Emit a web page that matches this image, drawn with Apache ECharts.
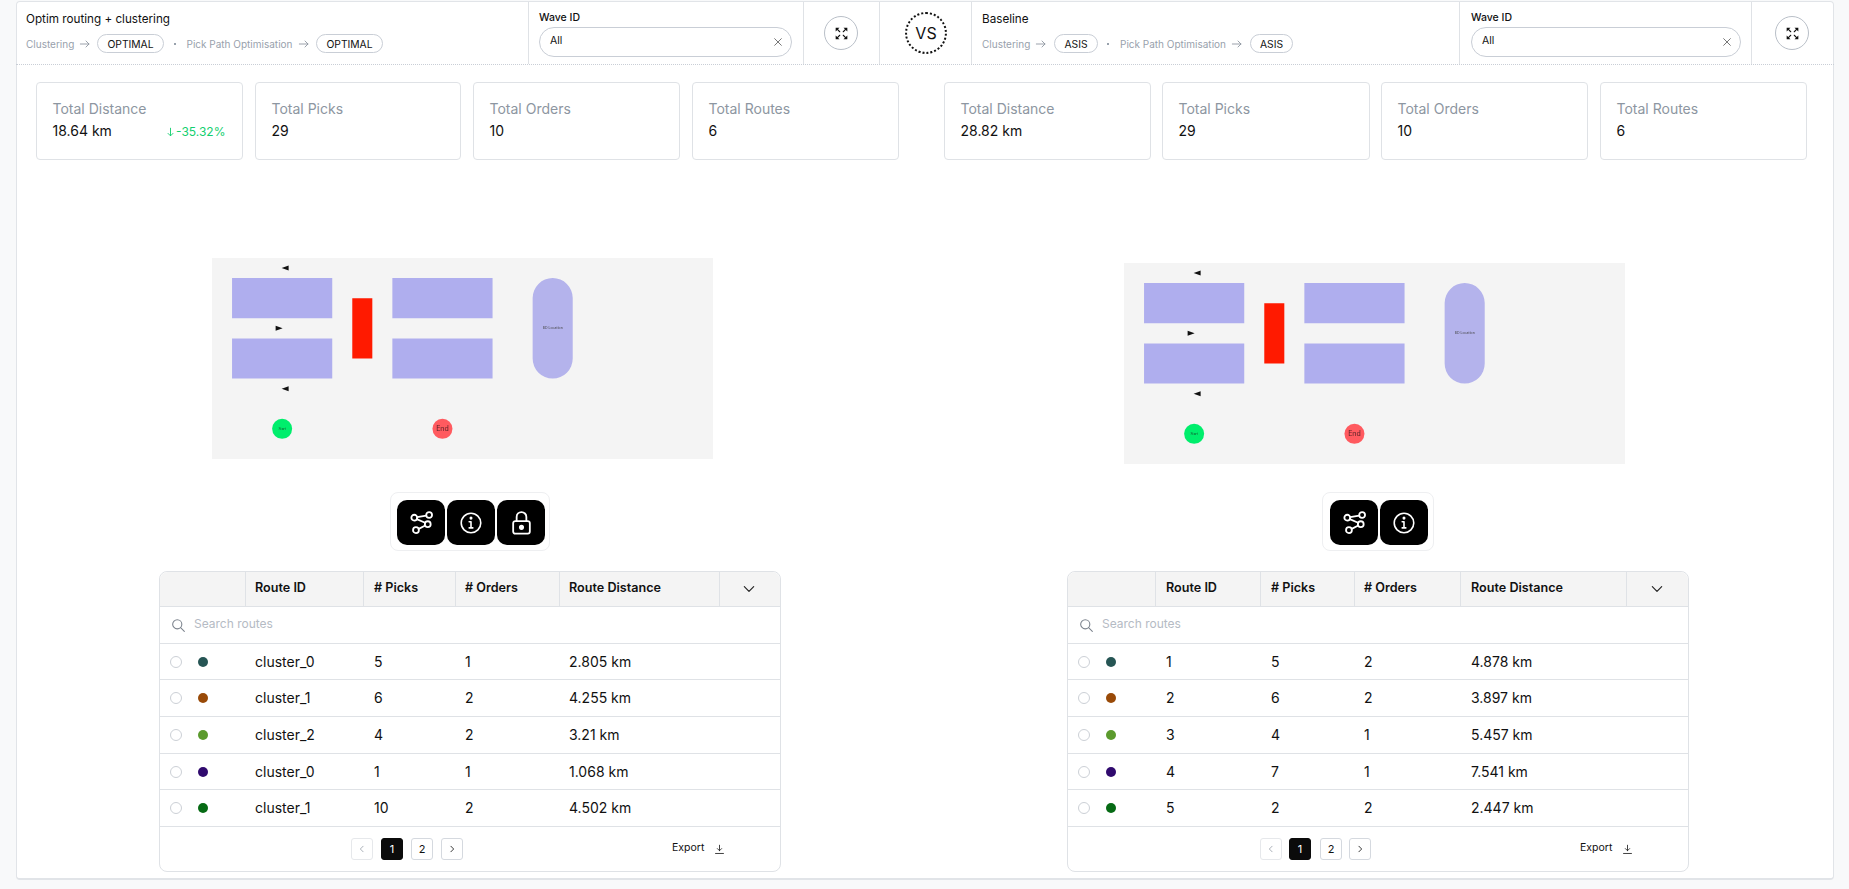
<!DOCTYPE html>
<html>
<head>
<meta charset="utf-8">
<title>Route comparison</title>
<script src="https://cdn.jsdelivr.net/npm/echarts@6/dist/echarts.min.js"></script>
<style>
  html, body { margin: 0; padding: 0; width: 1849px; height: 889px; overflow: hidden; background: #f8f9fa; }
  body { font-family: Inter, "Noto Sans", sans-serif; color: #111; position: relative; }
  .abs { position: absolute; box-sizing: border-box; }
  .txt { position: absolute; white-space: nowrap; transform: translateY(-50%); line-height: 1; }
  .panel { background: #fff; border: 1px solid #e1e4e8; border-bottom-width: 2px; border-radius: 4px; }
  .card { background: #fff; border: 1px solid #dfe2e6; border-radius: 4px; }
  .pill { border: 1px solid #c9ced6; border-radius: 10px; display: flex; align-items: center; justify-content: center; font-size: 10.3px; }
  .input { border: 1px solid #c9ced6; border-radius: 15px; }
  .round { border: 1px solid #b9bfc8; border-radius: 50%; display: flex; align-items: center; justify-content: center; }
  .tray { border: 1px solid #eeeff1; border-radius: 8px; }
  .tool { background: #000; border-radius: 10px; display: flex; align-items: center; justify-content: center; }
  .table { border: 1px solid #dfe2e6; border-radius: 8px; overflow: hidden; }
  .hline { position: absolute; height: 1px; background: #dfe2e6; }
  .vline { position: absolute; width: 1px; background: #dfe2e6; }
  .page { border: 1px solid #d5d9df; border-radius: 3px; display: flex; align-items: center; justify-content: center; font-size: 11px; }
</style>
</head>
<body>
<script>
// 数据
const kpiLabels = ['Total Distance', 'Total Picks', 'Total Orders', 'Total Routes'];
const optimKpis = ['18.64 km', '29', '10', '6'];
const baseKpis = ['28.82 km', '29', '10', '6'];
const optimDelta = '-35.32%';

const tableHeaders = ['Route ID', '# Picks', '# Orders', 'Route Distance'];
const routeColors = ['#265554', '#994a08', '#5b9a2d', '#300a6e', '#066a14'];

const optimRouteIds = ['cluster_0', 'cluster_1', 'cluster_2', 'cluster_0', 'cluster_1'];
const optimPicks = [5, 6, 4, 1, 10];
const optimOrders = [1, 2, 2, 1, 2];
const optimDistances = [2.805, 4.255, 3.21, 1.068, 4.502];

const baseRouteIds = ['1', '2', '3', '4', '5'];
const basePicks = [5, 6, 4, 7, 2];
const baseOrders = [2, 2, 1, 1, 2];
const baseDistances = [4.878, 3.897, 5.457, 7.541, 2.447];

// 仓库平面图（单位：平面坐标）: [x0, y0, x1, y1]
const rackCells = [[20, 20, 120, 60], [180, 20, 280, 60], [20, 80, 120, 120], [180, 80, 280, 120]];
const blockedCells = [[140, 40, 160, 100]];
const bdCells = [[320, 20, 360, 120]];
const arrowPoints = [[73, 10, 'left'], [67, 70, 'right'], [73, 130, 'left']];
const startPoint = [70, 170];
const endPoint = [230, 170];

const icons = {
  expand: '<path fill="#111" stroke="none" d="M2 2h4.6L2 6.6zM16 2h-4.6L16 6.6zM2 16h4.6L2 11.4zM16 16h-4.6L16 11.4z"/><path d="M3.5 3.5l3.4 3.4M14.5 3.5l-3.4 3.4M3.5 14.5l3.4-3.4M14.5 14.5l-3.4-3.4"/>',
  close: '<path d="M4 4l10 10M14 4L4 14"/>',
  arrow: '<path d="M2 9h13M10.5 4.5L15 9l-4.5 4.5"/>',
  down: '<path d="M9 2v12M5 10.5L9 14.5l4-4"/>',
  route: '<circle cx="3.8" cy="5.5" r="2.1"/><circle cx="14.5" cy="3.6" r="2.1"/><circle cx="13.5" cy="10.2" r="2.1"/><circle cx="5" cy="14.5" r="2.1"/><path d="M5.9 5.1l6.5-1.1M5.6 6.6l6 2.6M7 13.6l4.7-2.4"/>',
  info: '<circle cx="9" cy="9" r="8"/><path d="M9 8v5M7.5 13h3M7.5 8H9"/><circle cx="9" cy="5" r=".6"/>',
  lock: '<rect x="3" y="8" width="12" height="9" rx="1.5"/><path d="M5.5 8V5a3.5 3.5 0 017 0v3"/><circle cx="9" cy="12.5" r="1.2" fill="#fff"/>',
  search: '<circle cx="7.5" cy="7.5" r="5.5"/><path d="M11.5 11.5L16 16"/>',
  chevron: '<path d="M3 6l6 6 6-6"/>',
  prev: '<path d="M11 4L6 9l5 5"/>',
  next: '<path d="M7 4l5 5-5 5"/>',
  download: '<path d="M9 2v9M5.5 7.5L9 11l3.5-3.5M2.5 15.5h13"/>'
};
const toolIconSizes = { route: 25, info: 22, lock: 25 };

function icon(name, size, color, width) {
  return `<svg width="${size}" height="${size}" viewBox="0 0 18 18" fill="none" stroke="${color}" stroke-width="${width}" stroke-linecap="round" stroke-linejoin="round">${icons[name]}</svg>`;
}

function box(cls, x0, y0, x1, y1, html) {
  const el = document.createElement('div');
  el.className = 'abs ' + cls;
  el.style.cssText = `left:${x0}px;top:${y0}px;width:${x1 - x0}px;height:${y1 - y0}px`;
  if (html) el.innerHTML = html;
  document.body.appendChild(el);
  return el;
}

function text(x, cy, str, size, color, weight) {
  const el = document.createElement('div');
  el.className = 'txt';
  el.textContent = str;
  el.style.cssText = `left:${x}px;top:${cy}px;font-size:${size}px;color:${color || '#111'};font-weight:${weight || 400}`;
  document.body.appendChild(el);
  return el;
}

function iconAt(cx, cy, name, size, color, width) {
  box('', cx - size / 2, cy - size / 2, cx + size / 2, cy + size / 2, icon(name, size, color, width))
    .style.display = 'flex';
}

function hline(x0, x1, y, color) {
  const el = box('hline', x0, y, x1, y + 1);
  if (color) el.style.background = color;
  return el;
}

function vline(x, y0, y1) {
  return box('vline', x, y0, x + 1, y1);
}

// 页面外框
box('panel', 16, 1, 1834, 880);
const headerRule = box('', 16, 64, 1834, 65);
headerRule.style.borderTop = '1px dotted #c9ced6';
[528, 803, 879, 971, 1459, 1751].forEach(x => vline(x, 2, 64));

// 头部
function drawHeader(h) {
  text(h.titleX, 20, h.title, 11.7, '#111');
  text(h.clusterX, 43.5, 'Clustering', 10, '#98a1ac');
  iconAt(h.arrow1, 44, 'arrow', 12, '#8b939e', 1.3);
  box('pill', h.pill1[0], 34, h.pill1[1], 53, h.tag);
  box('', h.dotX - 1, 43, h.dotX + 1, 45).style.background = '#98a1ac';
  text(h.pickX, 43.5, 'Pick Path Optimisation', 10, '#98a1ac');
  iconAt(h.arrow2, 44, 'arrow', 12, '#8b939e', 1.3);
  box('pill', h.pill2[0], 34, h.pill2[1], 53, h.tag);
  text(h.waveX, 18, 'Wave ID', 10.5, '#111', 500);
  box('input', h.waveX, 27, h.inputEnd, 57);
  text(h.waveX + 11, 41, 'All', 10.5, '#111');
  iconAt(h.inputEnd - 14, 42, 'close', 12, '#555', 1.2);
  box('round', h.expandX - 17, 16, h.expandX + 17, 50, icon('expand', 15, '#111', 1.3));
}

drawHeader({
  title: 'Optim routing + clustering', tag: 'OPTIMAL', titleX: 26, clusterX: 26, arrow1: 85,
  pill1: [97, 164], dotX: 175, pickX: 186.5, arrow2: 303.5, pill2: [316, 383], waveX: 539, inputEnd: 792, expandX: 841
});
drawHeader({
  title: 'Baseline', tag: 'ASIS', titleX: 982, clusterX: 982, arrow1: 1041,
  pill1: [1054, 1098], dotX: 1108, pickX: 1120, arrow2: 1237, pill2: [1250, 1293], waveX: 1471, inputEnd: 1741, expandX: 1792
});

// VS 标记
const vs = box('', 905, 12, 947, 54, 'VS');
vs.style.cssText += ';border:2px dotted #111;border-radius:50%;display:flex;align-items:center;justify-content:center;font-size:16px;background:#fff';

// 指标卡片
function drawKpis(cardEdges, values, delta) {
  cardEdges.forEach((edge, i) => {
    box('card', edge[0], 82, edge[1], 160);
    text(edge[0] + 16.5, 109, kpiLabels[i], 14, '#8d96a1');
    text(edge[0] + 16.5, 131, values[i], 14, '#111');
  });
  if (delta) {
    iconAt(170, 132, 'down', 11, '#13cf6f', 1.5);
    text(176, 131.5, delta, 12, '#13cf6f');
  }
}
drawKpis([[36, 243], [255, 461], [473, 680], [692, 899]], optimKpis, optimDelta);
drawKpis([[944, 1151], [1162, 1370], [1381, 1588], [1600, 1807]], baseKpis, null);

// 平面图
function rectSeries(cells, color, opacity, radius) {
  return {
    type: 'custom',
    coordinateSystem: 'cartesian2d',
    silent: true,
    data: cells,
    encode: { x: [0, 2], y: [1, 3] },
    renderItem: function(params, api) {
      const a = api.coord([api.value(0), api.value(1)]);
      const b = api.coord([api.value(2), api.value(3)]);
      return {
        type: 'rect',
        shape: { x: a[0], y: a[1], width: b[0] - a[0], height: b[1] - a[1], r: radius },
        style: { fill: color, opacity: opacity }
      };
    }
  };
}

function pointSeries(point, color, name, size, labelColor) {
  return {
    type: 'scatter',
    silent: true,
    symbol: 'circle',
    symbolSize: 20,
    itemStyle: { color: color, opacity: 1 },
    label: { show: true, position: 'inside', formatter: name, fontSize: size, color: labelColor, fontFamily: 'Inter' },
    data: [point]
  };
}

function drawPlan(left, top) {
  const el = box('', left, top, left + 501, top + 201);
  el.style.filter = 'blur(0.4px)';
  const chart = echarts.init(el);
  const bdCenter = [(bdCells[0][0] + bdCells[0][2]) / 2, (bdCells[0][1] + bdCells[0][3]) / 2];
  chart.setOption({
    animation: false,
    backgroundColor: '#f4f4f4',
    grid: { left: 0, right: 0, top: 0, bottom: 0 },
    xAxis: { type: 'value', min: 0, max: 500, show: false },
    yAxis: { type: 'value', min: 0, max: 200, inverse: true, show: false },
    series: [
      rectSeries(rackCells, '#afaeee', 1, 0),
      rectSeries(blockedCells, '#ff1a00', 1, 0),
      rectSeries(bdCells, '#b4b3ec', 1, 20),
      {
        type: 'scatter',
        silent: true,
        symbol: 'circle',
        symbolSize: 2,
        itemStyle: { color: 'transparent', opacity: 1 },
        label: { show: true, position: 'inside', formatter: 'BD Location', fontSize: 3.5, color: '#444', fontFamily: 'Inter' },
        data: [bdCenter]
      },
      {
        type: 'scatter',
        silent: true,
        symbol: 'triangle',
        symbolSize: [5, 7],
        itemStyle: { color: '#111', opacity: 1 },
        data: arrowPoints.map(p => ({
          value: [p[0], p[1]],
          symbolRotate: p[2] === 'left' ? 90 : -90
        }))
      },
      pointSeries(startPoint, '#00ee6c', 'Start', 3.2, '#134d2c'),
      pointSeries(endPoint, '#ff5a5f', 'End', 7, '#552226')
    ]
  });
  return chart;
}
drawPlan(212, 258);
drawPlan(1124, 263);

// 工具按钮
function drawTools(tray, buttons, names) {
  box('tray', tray[0], 492, tray[1], 551);
  buttons.forEach((b, i) => {
    box('tool', b[0], 500, b[1], 545, icon(names[i], toolIconSizes[names[i]], '#fff', 1.3));
  });
}
drawTools([390, 550], [[397, 445], [447, 495], [497, 545]], ['route', 'info', 'lock']);
drawTools([1322, 1434], [[1330, 1378], [1380, 1428]], ['route', 'info']);

// 路线表格
const rowLines = [643, 679, 716, 753, 789, 826];
const rowCenters = [661.5, 698, 734.5, 771.5, 808];

function drawTable(t, routeIds, picks, orders, distances) {
  box('table', t.x0, 571, t.x1, 872);
  const head = box('', t.x0 + 1, 572, t.x1 - 1, 606);
  head.style.background = '#f4f4f4';
  head.style.borderRadius = '8px 8px 0 0';
  t.seps.forEach(x => vline(x, 572, 606));
  hline(t.x0 + 1, t.x1 - 1, 606);
  tableHeaders.forEach((label, i) => {
    text(t.cols[i], 587.5, label, 12.6, '#111', 600);
  });
  iconAt(t.chevron, 589, 'chevron', 14, '#222', 1.5);
  iconAt(t.searchIcon, 625, 'search', 15, '#7c838d', 1.3);
  text(t.searchText, 624, 'Search routes', 12, '#b5bbc4');
  rowLines.forEach(y => hline(t.x0 + 1, t.x1 - 1, y));

  rowCenters.forEach((cy, i) => {
    const radio = box('', t.radio - 6, cy - 6, t.radio + 6, cy + 6);
    radio.style.cssText += ';border:1px solid #ccd0d6;border-radius:50%';
    const dot = box('', t.dot - 5, cy - 5, t.dot + 5, cy + 5);
    dot.style.cssText += `;background:${routeColors[i]};border-radius:50%`;
    text(t.cols[0], cy, routeIds[i], 14);
    text(t.cols[1], cy, String(picks[i]), 14);
    text(t.cols[2], cy, String(orders[i]), 14);
    text(t.cols[3], cy, distances[i] + ' km', 14);
  });

  // 分页
  const pages = t.pages;
  const prev = box('page', pages[0], 838, pages[0] + 22, 860, icon('prev', 10, '#9aa1ab', 1.5));
  prev.style.borderColor = '#e6e8eb';
  const one = box('page', pages[1], 838, pages[1] + 22, 860, '1');
  one.style.cssText += ';background:#0b0b0b;color:#fff;border-color:#0b0b0b';
  box('page', pages[2], 838, pages[2] + 22, 860, '2');
  box('page', pages[3], 838, pages[3] + 22, 860, icon('next', 10, '#222', 1.6));
  text(t.exportX, 848, 'Export', 10.5, '#111', 400);
  iconAt(t.exportIcon, 849, 'download', 11, '#222', 1.4);
}

drawTable({
  x0: 159, x1: 781, seps: [245, 363, 455, 559, 719], cols: [255, 374, 465, 569], chevron: 749,
  searchIcon: 178, searchText: 194, radio: 176, dot: 203, pages: [351, 381, 411, 441], exportX: 672, exportIcon: 719
}, optimRouteIds, optimPicks, optimOrders, optimDistances);
drawTable({
  x0: 1067, x1: 1689, seps: [1155, 1260, 1354, 1460, 1626], cols: [1166, 1271, 1364, 1471], chevron: 1657,
  searchIcon: 1086, searchText: 1102, radio: 1084, dot: 1111, pages: [1260, 1289, 1320, 1349], exportX: 1580, exportIcon: 1627
}, baseRouteIds, basePicks, baseOrders, baseDistances);
</script>
</body>
</html>
